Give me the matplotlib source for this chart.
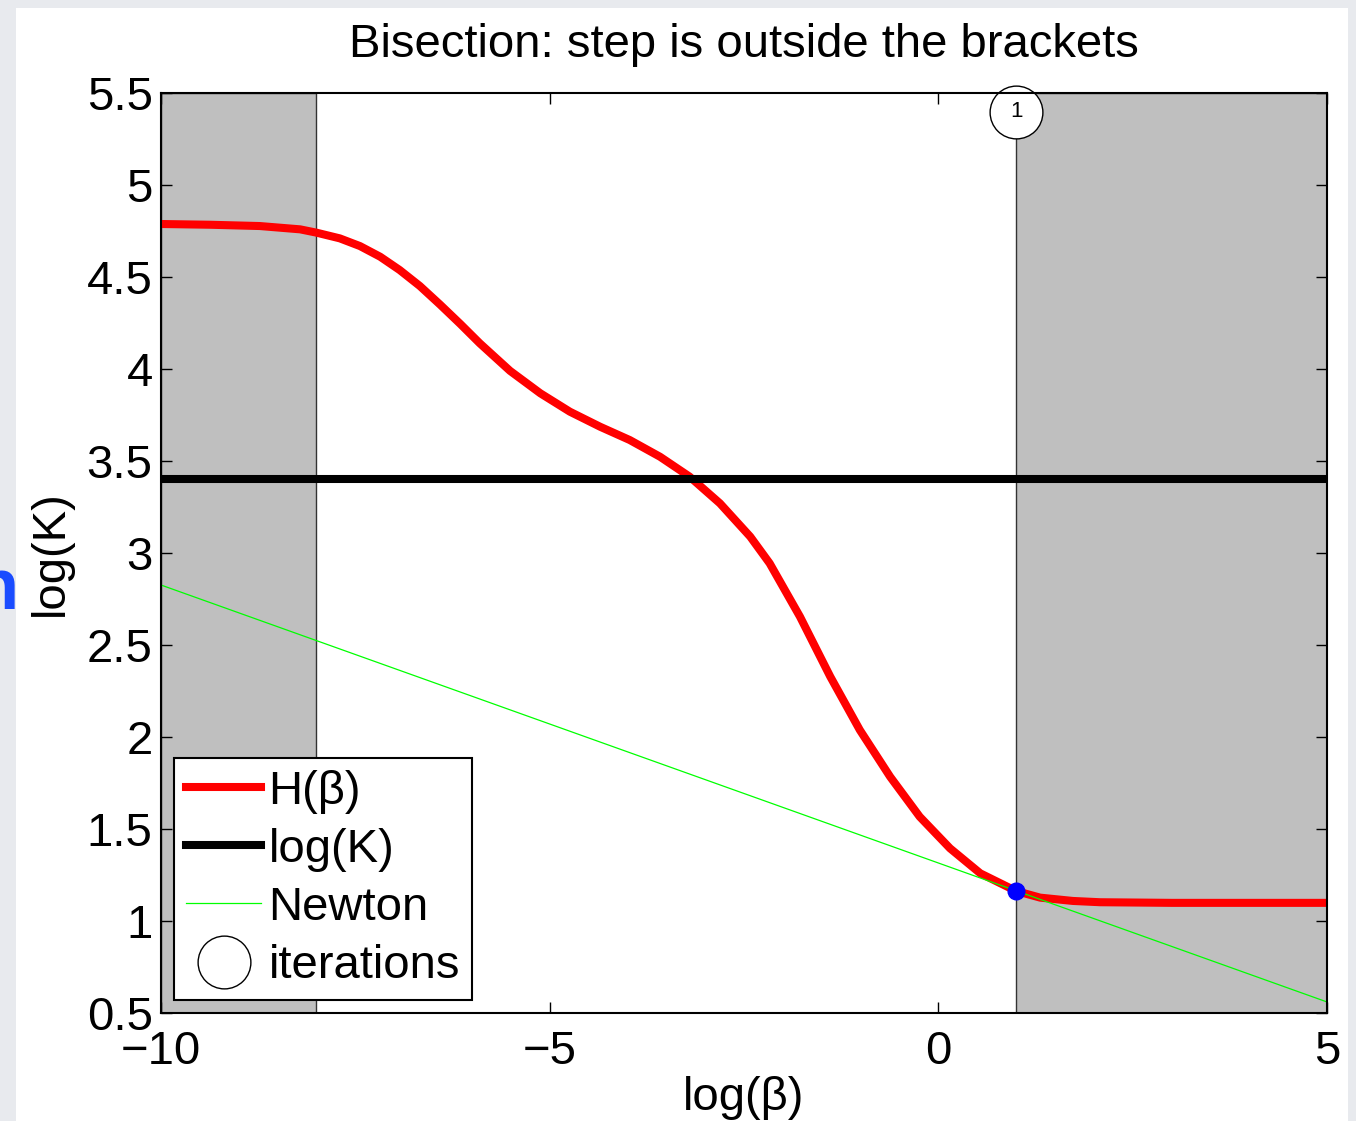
import matplotlib
matplotlib.use('Agg')
import matplotlib.pyplot as plt
from matplotlib.patches import Rectangle
from matplotlib.lines import Line2D

plt.rcParams['font.family'] = ['Liberation Sans', 'DejaVu Sans']

# entropy H(beta) against log(beta)
log_beta = [-10, -9.37, -8.73, -8.21, -8.0, -7.7, -7.44, -7.18, -6.93, -6.67,
            -6.41, -6.15, -5.9, -5.51, -5.12, -4.74, -4.35, -3.97, -3.58,
            -3.2, -2.81, -2.42, -2.17, -1.78, -1.39, -1.01, -0.62, -0.24,
            0.15, 0.54, 1.0, 1.31, 1.73, 2.08, 3, 4, 5]
entropy = [4.788, 4.784, 4.777, 4.759, 4.741, 4.710, 4.668, 4.610, 4.538,
           4.451, 4.350, 4.245, 4.140, 3.990, 3.868, 3.768, 3.686, 3.614,
           3.523, 3.415, 3.270, 3.089, 2.944, 2.654, 2.328, 2.038, 1.784,
           1.567, 1.395, 1.259, 1.163, 1.127, 1.109, 1.102, 1.0986, 1.0986,
           1.0986]

log_k = 3.4012          # log(30)
newton_x = [-10, 5]
newton_y = [2.826, 0.560]
bracket_lo = [-10, -8]
bracket_hi = [1, 5]
iter_x = [1]
iter_y = [1.163]
iter_labels = ['1']

FS = 34

fig = plt.figure(figsize=(13.56, 11.21), dpi=100)
fig.patch.set_facecolor('#e8eaee')
fig.patches.append(Rectangle((16/1356, 0), 1332/1356, 1 - 8/1121,
                             transform=fig.transFigure, facecolor='white',
                             edgecolor='none', zorder=-10))

ax = fig.add_axes([161/1356, 1 - 1013/1121, 1166/1356, 920/1121])

for lo, hi in (bracket_lo, bracket_hi):
    ax.axvspan(lo, hi, facecolor='#bfbfbf', edgecolor='#333333', lw=1.0, zorder=1)

ax.plot(log_beta, entropy, color='red', lw=5.8, zorder=3,
        solid_joinstyle='round')
ax.axhline(log_k, color='black', lw=5.8, zorder=3)
ax.plot(newton_x, newton_y, color='#00ff00', lw=0.9, zorder=4)
ax.plot(iter_x, iter_y, 'o', color='blue', ms=12, zorder=5)

# iteration markers along the top edge
for x, lab in zip(iter_x, iter_labels):
    ax.plot(x, 5.397, 'o', ms=38, mfc='white', mec='black', mew=1.0,
            clip_on=False, zorder=6)
    ax.text(x, 5.397, lab, ha='center', va='center', fontsize=16, zorder=7,
            clip_on=False)

ax.set_xlim(-10, 5)
ax.set_ylim(0.5, 5.5)
ax.set_xticks([-10, -5, 0, 5])
ax.set_xticklabels(['\u221210', '\u22125', '0', '5'])
ax.set_yticks([0.5, 1, 1.5, 2, 2.5, 3, 3.5, 4, 4.5, 5, 5.5])
ax.set_yticklabels(['0.5', '1', '1.5', '2', '2.5', '3', '3.5', '4', '4.5', '5', '5.5'])
ax.tick_params(direction='in', top=True, right=True, length=8, width=1,
               labelsize=FS)
ax.tick_params(axis='x', pad=12)
ax.tick_params(axis='y', pad=6)
for s in ax.spines.values():
    s.set_linewidth(1.5)
    s.set_zorder(8)

ax.set_xlabel('log(β)', fontsize=FS, labelpad=2)
ax.set_ylabel('log(K)', fontsize=FS, labelpad=10)
ax.set_title('Bisection: step is outside the brackets', fontsize=FS, pad=26)

handles = [
    Line2D([], [], color='red', lw=5.8),
    Line2D([], [], color='black', lw=5.8),
    Line2D([], [], color='#00ff00', lw=0.9),
    Line2D([], [], ls='none', marker='o', ms=38, mfc='white', mec='black', mew=1.0),
]
leg = ax.legend(handles, ['H(β)', 'log(K)', 'Newton', 'iterations'],
                loc='lower left', bbox_to_anchor=(13/1166, 13/920),
                fontsize=FS, frameon=True, fancybox=False, framealpha=1,
                edgecolor='black', handlelength=1.6, handletextpad=0.15,
                labelspacing=0.3, borderpad=0.25, borderaxespad=0)
leg.get_frame().set_linewidth(1.5)
leg.set_zorder(9)

fig.text(18/1356, 1 - 590/1121, 'n', color='#1a4cff', fontsize=52,
         fontweight='bold', ha='right', va='center', zorder=10)

fig.savefig('out.png', dpi=100, facecolor=fig.get_facecolor())
